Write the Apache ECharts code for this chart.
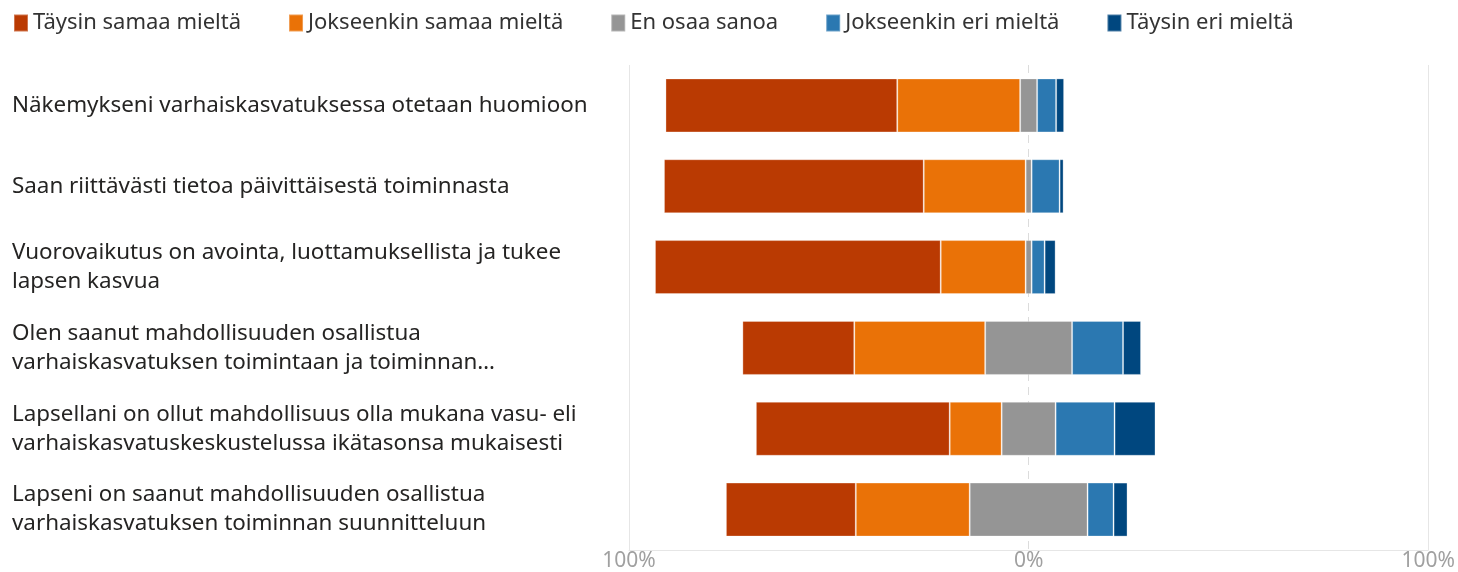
<!DOCTYPE html>
<html>
<head>
<meta charset="utf-8">
<script src="https://cdn.jsdelivr.net/npm/echarts@6/dist/echarts.min.js"></script>
<style>
  html, body { margin: 0; padding: 0; background: #fff; }
  #chart { width: 1458px; height: 572px; }
</style>
</head>
<body>
<div id="chart"></div>
<script>
// kysymykset (ylhäältä alas)
const questions = [
  'Näkemykseni varhaiskasvatuksessa otetaan huomioon',
  'Saan riittävästi tietoa päivittäisestä toiminnasta',
  'Vuorovaikutus on avointa, luottamuksellista ja tukee\nlapsen kasvua',
  'Olen saanut mahdollisuuden osallistua\nvarhaiskasvatuksen toimintaan ja toiminnan…',
  'Lapsellani on ollut mahdollisuus olla mukana vasu- eli\nvarhaiskasvatuskeskustelussa ikätasonsa mukaisesti',
  'Lapseni on saanut mahdollisuuden osallistua\nvarhaiskasvatuksen toiminnan suunnitteluun'
]

// vastausten osuudet, %
const taysinSamaa = [58, 65, 71.5, 28, 48.5, 32.5]
const jokseenkinSamaa = [30.75, 25.5, 21.25, 32.75, 13, 28.5]
const enOsaa = [4.25, 1.5, 1.5, 21.75, 13.5, 29.5]
const jokseenkinEri = [4.75, 7, 3.25, 12.75, 14.75, 6.5]
const taysinEri = [2, 1, 2.75, 4.5, 10.25, 3.5]

const axisTicks = [0, 100, 200] // 0 = 100% vasemmalla, 100 = keskikohta

const names = ['Täysin samaa mieltä', 'Jokseenkin samaa mieltä', 'En osaa sanoa', 'Jokseenkin eri mieltä', 'Täysin eri mieltä']
const colors = {
  'Täysin samaa mieltä': '#BA3A02',
  'Jokseenkin samaa mieltä': '#EA7207',
  'En osaa sanoa': '#959595',
  'Jokseenkin eri mieltä': '#2B78B1',
  'Täysin eri mieltä': '#00477F'
}

const font = 'Noto Sans'

// näkymätön siirtymä, jotta "En osaa sanoa" asettuu keskikohdan päälle
const offset = taysinSamaa.map((v, i) => 100 - v - jokseenkinSamaa[i] - enOsaa[i] / 2)

function barSeries(name, data, borderWidth) {
  return {
    name: name,
    type: 'bar',
    stack: 'total',
    barWidth: 54,
    data: data,
    itemStyle: {
      color: colors[name],
      borderColor: 'rgba(255,255,255,0.3)',
      borderWidth: borderWidth === undefined ? 1 : borderWidth
    }
  }
}

const chart = echarts.init(document.getElementById('chart'))

const option = {
  animation: false,
  color: names.map(n => colors[n]),
  legend: {
    data: names,
    left: 8,
    top: 7,
    itemWidth: 14,
    itemHeight: 17,
    itemGap: 47,
    icon: 'rect',
    textStyle: { fontFamily: font, fontSize: 22, color: '#333' }
  },
  grid: {
    left: 629,
    right: 29,
    top: 65,
    bottom: 16,
    containLabel: false
  },
  xAxis: [
    {
      type: 'value',
      min: axisTicks[0],
      max: axisTicks[axisTicks.length - 1],
      interval: 100,
      axisLine: { show: true, lineStyle: { color: '#e6e6e6' } },
      axisTick: { show: false },
      axisLabel: {
        margin: 1,
        fontFamily: font,
        fontSize: 21,
        color: '#a0a0a0',
        formatter: v => Math.abs(v - 100) + '%'
      },
      splitLine: {
        show: true,
        lineStyle: { color: ['#e6e6e6', 'rgba(0,0,0,0)', '#e6e6e6'], width: 1 }
      }
    },
    {
      // vain keskikohdan katkoviiva
      type: 'value',
      min: 0,
      max: 2,
      interval: 1,
      show: true,
      axisLine: { show: false },
      axisTick: { show: false },
      axisLabel: { show: false },
      splitLine: {
        show: true,
        lineStyle: { color: ['rgba(0,0,0,0)', '#dcdcdc', 'rgba(0,0,0,0)'], type: [8, 6], width: 1 }
      }
    }
  ],
  yAxis: {
    type: 'category',
    inverse: true,
    data: questions,
    axisLine: { show: false },
    axisTick: { show: false },
    axisLabel: {
      align: 'left',
      margin: 617,
      fontFamily: font,
      fontSize: 22.4,
      lineHeight: 29,
      color: '#252423'
    }
  },
  series: [
    {
      type: 'bar',
      stack: 'total',
      barWidth: 54,
      silent: true,
      data: offset,
      itemStyle: { color: 'rgba(0,0,0,0)', borderWidth: 0 }
    },
    barSeries('Täysin samaa mieltä', taysinSamaa),
    barSeries('Jokseenkin samaa mieltä', jokseenkinSamaa),
    barSeries('En osaa sanoa', enOsaa),
    barSeries('Jokseenkin eri mieltä', jokseenkinEri),
    barSeries('Täysin eri mieltä', taysinEri)
  ]
}

chart.setOption(option)
</script>
</body>
</html>
